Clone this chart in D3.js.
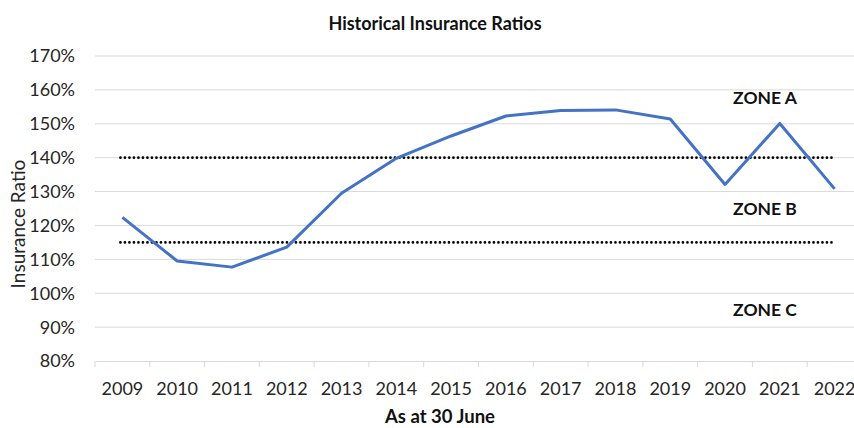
<!DOCTYPE html>
<html>
<head>
<meta charset="utf-8">
<script src="https://cdn.jsdelivr.net/npm/d3@7"></script>
<style>
  html, body { margin: 0; padding: 0; background: #fff; }
  svg { display: block; font-family: Lato, "Open Sans", sans-serif; }
</style>
</head>
<body>
<svg id="chart" width="854" height="428"></svg>
<script>
const years = ["2009","2010","2011","2012","2013","2014","2015","2016","2017","2018","2019","2020","2021","2022"];
const ratios = [122.4, 109.5, 107.7, 113.6, 129.5, 139.8, 146.4, 152.3, 153.9, 154.1, 151.4, 132.1, 150.1, 130.8];
const yTicks = [80, 90, 100, 110, 120, 130, 140, 150, 160, 170];
const thresholds = [140, 115];
const zones = [{label: "ZONE A", value: 157.8}, {label: "ZONE B", value: 124.8}, {label: "ZONE C", value: 95}];
const title = "Historical Insurance Ratios";
const xTitle = "As at 30 June";
const yTitle = "Insurance Ratio";

const svg = d3.select("#chart");
const mLeft = 95, mRight = 862, mTop = 56, mBottom = 361;

const x = d3.scaleBand().domain(years).range([mLeft, mRight]);
const y = d3.scaleLinear().domain([80, 170]).range([mBottom, mTop]);

// gridlines
svg.append("g").selectAll("line").data(yTicks.filter(d => d !== 80)).join("line")
  .attr("x1", mLeft).attr("x2", mRight)
  .attr("y1", d => y(d)).attr("y2", d => y(d))
  .attr("stroke", "#d9d9d9").attr("stroke-width", 1);

// y tick labels
svg.append("g").selectAll("text").data(yTicks).join("text")
  .attr("x", 75).attr("y", d => y(d)).attr("dy", "0.36em")
  .attr("text-anchor", "end").attr("font-size", 18).attr("fill", "#262626")
  .text(d => d + "%");

// x axis
const xAxis = d3.axisBottom(x).tickSizeOuter(0).tickSizeInner(0).tickPadding(0);
const gx = svg.append("g").attr("transform", `translate(0,${mBottom})`).call(xAxis);
gx.select(".domain").attr("stroke", "#d9d9d9");
gx.selectAll("text").attr("font-size", 18).attr("fill", "#262626")
  .attr("font-family", "Lato, sans-serif").attr("dy", null).attr("y", 34);
// category boundary ticks
svg.append("g").selectAll("line").data(years).join("line")
  .attr("x1", d => x(d)).attr("x2", d => x(d))
  .attr("y1", mBottom).attr("y2", mBottom + 6)
  .attr("stroke", "#d9d9d9");

// threshold dotted lines
const xFirst = x(years[0]) + x.bandwidth() / 2;
const xLast = x(years[years.length - 1]) + x.bandwidth() / 2;
svg.append("g").selectAll("line").data(thresholds).join("line")
  .attr("x1", xFirst - 2).attr("x2", xLast)
  .attr("y1", d => y(d)).attr("y2", d => y(d))
  .attr("stroke", "#000").attr("stroke-width", 2.6)
  .attr("stroke-linecap", "round").attr("stroke-dasharray", "0.1 4.4");

// data line
const line = d3.line().x((d, i) => x(years[i]) + x.bandwidth() / 2).y(d => y(d));
svg.append("path").datum(ratios)
  .attr("d", line).attr("fill", "none")
  .attr("stroke", "#4472c4").attr("stroke-width", 3)
  .attr("stroke-linejoin", "round");

// zone labels
svg.append("g").selectAll("text").data(zones).join("text")
  .attr("x", 765).attr("y", d => y(d.value)).attr("dy", "0.36em")
  .attr("text-anchor", "middle").attr("font-size", 17.5).attr("font-weight", "bold")
  .attr("fill", "#111").text(d => d.label);

// titles
svg.append("text").attr("x", 435).attr("y", 30).attr("text-anchor", "middle")
  .attr("font-size", 18).attr("font-weight", "bold").attr("fill", "#111").text(title);
svg.append("text").attr("x", 440).attr("y", 423).attr("text-anchor", "middle")
  .attr("font-size", 18.5).attr("font-weight", "bold").attr("fill", "#111").text(xTitle);
svg.append("text").attr("transform", "translate(25,224) rotate(-90)")
  .attr("text-anchor", "middle").attr("font-size", 19).attr("fill", "#262626").text(yTitle);
</script>
</body>
</html>
